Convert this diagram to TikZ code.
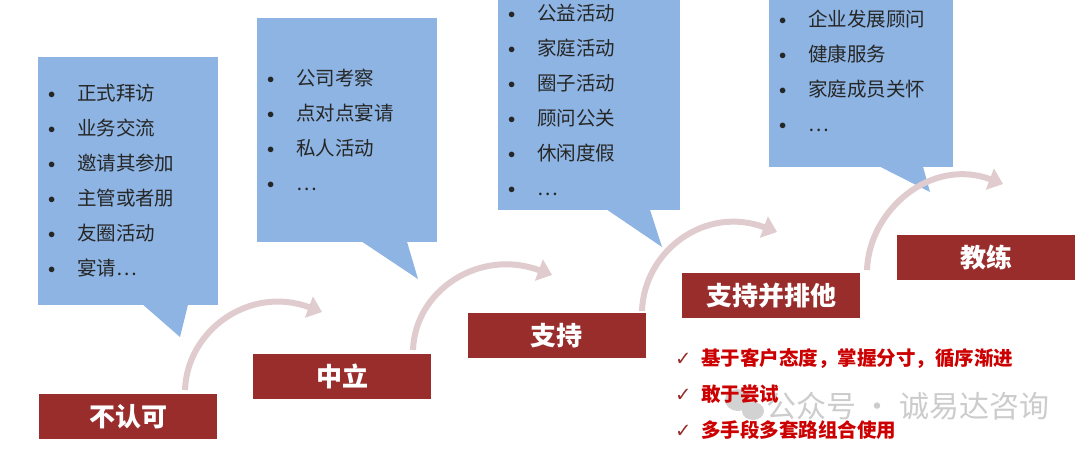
\documentclass[tikz,border=0pt]{standalone}
\usepackage{fontspec}
\setmainfont{Noto Sans CJK SC}
\newfontfamily\symfont{DejaVu Sans}
\usetikzlibrary{positioning, arrows.meta}
\definecolor{boxblue}{RGB}{141,180,226}
\definecolor{stagered}{RGB}{152,45,44}
\definecolor{tipred}{RGB}{204,0,0}
\definecolor{arcpink}{RGB}{224,204,206}
\tikzstyle{listbox} = [rectangle, fill=boxblue, align=left, inner xsep=9pt, inner ysep=0pt, text=black!85, font=\fontsize{19.5}{35}\selectfont]
\tikzstyle{stage} = [rectangle, fill=stagered, minimum width=178pt, minimum height=45pt, text=white, font=\fontsize{26}{30}\selectfont\bfseries]
\tikzstyle{arc} = [line width=6pt, draw=arcpink, -{Triangle[length=14pt,width=22pt]}]
\newcommand{\itm}{\makebox[30pt][l]{\hspace{1pt}\raisebox{2pt}{\fontsize{14}{14}\selectfont$\bullet$}}}
\newcommand{\chk}{\makebox[26pt][l]{\color{stagered}\symfont ✓}}

\begin{document}
\begin{tikzpicture}[x=1pt,y=-1pt]
\clip (0,0) rectangle (1080,456);
\fill[white] (0,0) rectangle (1080,456);

% watermark
\fill[gray!35] (738,400) ellipse (13pt and 11pt);
\fill[gray!35] (753,411) ellipse (11pt and 9pt);
\node[anchor=west, inner sep=0, text=gray!40, font=\fontsize{30}{30}\selectfont] (mark) at (766,406) {公众号 · 诚易达咨询};

% activity boxes
\node[listbox, text width=162pt, minimum height=248pt] (box1) at (128,181) {\itm 正式拜访\\ \itm 业务交流\\ \itm 邀请其参加\\ \itm 主管或者朋\\ \itm 友圈活动\\ \itm 宴请\ldots};
\fill[boxblue] ([xshift=15pt,yshift=0.5pt]box1.south) -- ([xshift=60pt,yshift=0.5pt]box1.south) -- (180,337) -- cycle;

\node[listbox, text width=162pt, minimum height=224pt] (box2) at (347,130) {\itm 公司考察\\ \itm 点对点宴请\\ \itm 私人活动\\ \itm \ldots};
\fill[boxblue] ([xshift=15pt,yshift=0.5pt]box2.south) -- ([xshift=60pt,yshift=0.5pt]box2.south) -- (418,279) -- cycle;

\node[listbox, text width=164pt, minimum height=220pt] (box3) at (589,100) {\itm 公益活动\\ \itm 家庭活动\\ \itm 圈子活动\\ \itm 顾问公关\\ \itm 休闲度假\\ \itm \ldots};
\fill[boxblue] ([xshift=18pt,yshift=0.5pt]box3.south) -- ([xshift=61pt,yshift=0.5pt]box3.south) -- (662,247) -- cycle;

\node[listbox, text width=166pt, minimum height=192pt] (box4) at (861,71) {\itm 企业发展顾问\\ \itm 健康服务\\ \itm 家庭成员关怀\\ \itm \ldots};
\fill[boxblue] ([xshift=19pt,yshift=0.5pt]box4.south) -- ([xshift=62pt,yshift=0.5pt]box4.south) -- (930,192) -- cycle;

% stages
\node[stage] (s1) at (128,416.5) {不认可};
\node[stage, right=36pt of s1, yshift=40.5pt] (s2) {中立};
\node[stage, right=36pt of s2, yshift=40.5pt] (s3) {支持};
\node[stage, right=36pt of s3, yshift=40pt] (s4) {支持并排他};
\node[stage, right=36.5pt of s4, yshift=38pt] (s5) {教练};

% arcs between stages
\coordinate (a1s) at (185,390); \coordinate (a1e) at (322,312);
\coordinate (a2s) at (413,350); \coordinate (a2e) at (552,275);
\coordinate (a3s) at (642,311); \coordinate (a3e) at (777,232);
\coordinate (a4s) at (867,270); \coordinate (a4e) at (1003,184);
\draw[arc] (a1s) .. controls +(2,-60) and +(-72,-27) .. (a1e);
\draw[arc] (a2s) .. controls +(2,-60) and +(-72,-27) .. (a2e);
\draw[arc] (a3s) .. controls +(2,-60) and +(-72,-27) .. (a3e);
\draw[arc] (a4s) .. controls +(2,-60) and +(-72,-27) .. (a4e);

\node[anchor=west, align=left, inner sep=0, text=tipred, font=\fontsize{19.5}{36}\selectfont\bfseries] (tips) at (675,394) {\chk 基于客户态度，掌握分寸，循序渐进\\ \chk 敢于尝试\\ \chk 多手段多套路组合使用};
\end{tikzpicture}
\end{document}
